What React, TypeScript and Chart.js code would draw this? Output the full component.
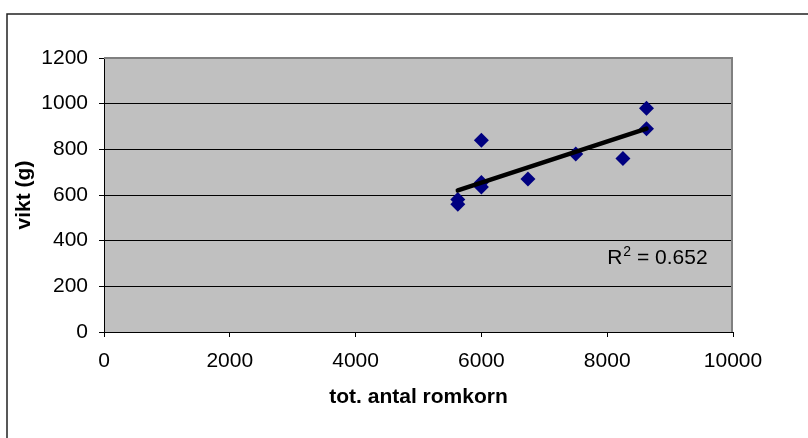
import { useEffect, useRef } from "react";
import { Chart, registerables } from "chart.js";

Chart.register(...registerables);

// Measurements: total egg count vs. weight
const romkorn = [5625, 5625, 6000, 6000, 6000, 6740, 7500, 8250, 8625, 8625];
const vikt = [580, 560, 840, 655, 635, 670, 780, 760, 980, 890];

const xTickValues = [0, 2000, 4000, 6000, 8000, 10000];
const yTickValues = [0, 200, 400, 600, 800, 1000, 1200];

const xTitle = "tot. antal romkorn";
const yTitle = "vikt (g)";

// Where the R² annotation sits, in data units (left edge, baseline)
const R2_LABEL_X = 8000;
const R2_LABEL_Y = 300;

const FONT = '"Liberation Sans", Arial, Helvetica, sans-serif';
const FONT_SIZE = 21;

function linearFit(xs: number[], ys: number[]) {
  const n = xs.length;
  const mx = xs.reduce((s, v) => s + v, 0) / n;
  const my = ys.reduce((s, v) => s + v, 0) / n;
  let sxy = 0;
  let sxx = 0;
  let syy = 0;
  for (let i = 0; i < n; i++) {
    const dx = xs[i] - mx;
    const dy = ys[i] - my;
    sxy += dx * dy;
    sxx += dx * dx;
    syy += dy * dy;
  }
  const slope = sxy / sxx;
  const intercept = my - slope * mx;
  const r2 = (sxy * sxy) / (sxx * syy);
  return { slope, intercept, r2 };
}

export default function App() {
  const canvasRef = useRef<HTMLCanvasElement | null>(null);

  useEffect(() => {
    const canvas = canvasRef.current;
    if (!canvas) return;

    const fit = linearFit(romkorn, vikt);
    const xMin = Math.min(...romkorn);
    const xMax = Math.max(...romkorn);
    const trend = [
      { x: xMin, y: fit.intercept + fit.slope * xMin },
      { x: xMax, y: fit.intercept + fit.slope * xMax },
    ];
    const points = romkorn.map((x, i) => ({ x, y: vikt[i] }));

    const chartDecor = {
      id: "chartDecor",
      beforeDraw(chart: any) {
        const { ctx, chartArea: a } = chart;
        ctx.save();
        ctx.fillStyle = "#ffffff";
        ctx.fillRect(0, 0, chart.width, chart.height);
        ctx.strokeStyle = "#222222";
        ctx.lineWidth = 1.5;
        ctx.strokeRect(7, 14, chart.width + 40, chart.height + 40);
        ctx.fillStyle = "#c0c0c0";
        ctx.fillRect(a.left, a.top, a.right - a.left, a.bottom - a.top);
        ctx.restore();
      },
      beforeDatasetsDraw(chart: any) {
        const { ctx, chartArea: a } = chart;
        ctx.save();
        ctx.strokeStyle = "#808080";
        ctx.lineWidth = 2;
        ctx.beginPath();
        ctx.moveTo(a.left, a.top);
        ctx.lineTo(a.right - 1, a.top);
        ctx.lineTo(a.right - 1, a.bottom);
        ctx.stroke();
        ctx.restore();
      },
      afterDatasetsDraw(chart: any) {
        const { ctx } = chart;
        const xs = chart.scales.x;
        const ys = chart.scales.y;
        const px = xs.getPixelForValue(R2_LABEL_X);
        const py = ys.getPixelForValue(R2_LABEL_Y);
        ctx.save();
        ctx.fillStyle = "#000000";
        ctx.textBaseline = "alphabetic";
        ctx.textAlign = "left";
        ctx.font = `${FONT_SIZE}px ${FONT}`;
        ctx.fillText("R", px, py);
        const rw = ctx.measureText("R").width;
        ctx.font = `14px ${FONT}`;
        ctx.fillText("2", px + rw + 1, py - 8);
        const sw = ctx.measureText("2").width;
        ctx.font = `${FONT_SIZE}px ${FONT}`;
        ctx.fillText(` = ${fit.r2.toFixed(3)}`, px + rw + sw + 1, py);
        ctx.restore();
      },
    };

    const plainNumber = (v: any) => String(v);

    const chart = new Chart(canvas, {
      type: "scatter",
      data: {
        datasets: [
          {
            label: "trend",
            type: "line",
            data: trend,
            borderColor: "#000000",
            borderWidth: 4.5,
            borderCapStyle: "round",
            pointRadius: 0,
            showLine: true,
            fill: false,
            order: 0,
          } as any,
          {
            label: "vikt",
            data: points,
            pointStyle: "rectRot",
            pointRadius: 7.5,
            backgroundColor: "#000080",
            borderColor: "#000080",
            borderWidth: 0,
            order: 1,
          },
        ],
      },
      options: {
        animation: false,
        responsive: false,
        maintainAspectRatio: false,
        layout: { padding: { left: 0, top: 58, right: 75, bottom: 0 } },
        plugins: {
          legend: { display: false },
          tooltip: { enabled: false },
        },
        scales: {
          x: {
            type: "linear",
            min: 0,
            max: 10000,
            afterBuildTicks(scale: any) {
              scale.ticks = xTickValues.map((v) => ({ value: v }));
            },
            afterFit(scale: any) {
              scale.height = 106;
            },
            ticks: {
              color: "#000000",
              font: { family: FONT, size: FONT_SIZE },
              padding: 12,
              maxRotation: 0,
              autoSkip: false,
              callback: plainNumber,
            },
            grid: {
              drawOnChartArea: false,
              drawTicks: true,
              tickLength: 5,
              color: "#000000",
              lineWidth: 1,
            },
            border: { display: true, color: "#000000", width: 1 },
            title: {
              display: true,
              text: xTitle,
              color: "#000000",
              font: { family: FONT, size: FONT_SIZE, weight: "bold" },
              padding: { top: 0, bottom: 28 },
            },
          },
          y: {
            type: "linear",
            min: 0,
            max: 1200,
            afterBuildTicks(scale: any) {
              scale.ticks = yTickValues.map((v) => ({ value: v }));
            },
            afterFit(scale: any) {
              scale.width = 104;
            },
            ticks: {
              color: "#000000",
              font: { family: FONT, size: FONT_SIZE },
              padding: 11,
              autoSkip: false,
              callback: plainNumber,
            },
            grid: {
              drawOnChartArea: true,
              drawTicks: true,
              tickLength: 5,
              color: "#000000",
              lineWidth: 1,
            },
            border: { display: true, color: "#000000", width: 1 },
            title: {
              display: true,
              text: yTitle,
              color: "#000000",
              font: { family: FONT, size: FONT_SIZE, weight: "bold" },
              padding: { top: 12, bottom: 0 },
            },
          },
        },
      },
      plugins: [chartDecor],
    });

    return () => {
      chart.destroy();
    };
  }, []);

  return (
    <div style={{ position: "absolute", left: 0, top: 0, width: 808, height: 438 }}>
      <canvas ref={canvasRef} width={808} height={438} style={{ display: "block" }} />
    </div>
  );
}
